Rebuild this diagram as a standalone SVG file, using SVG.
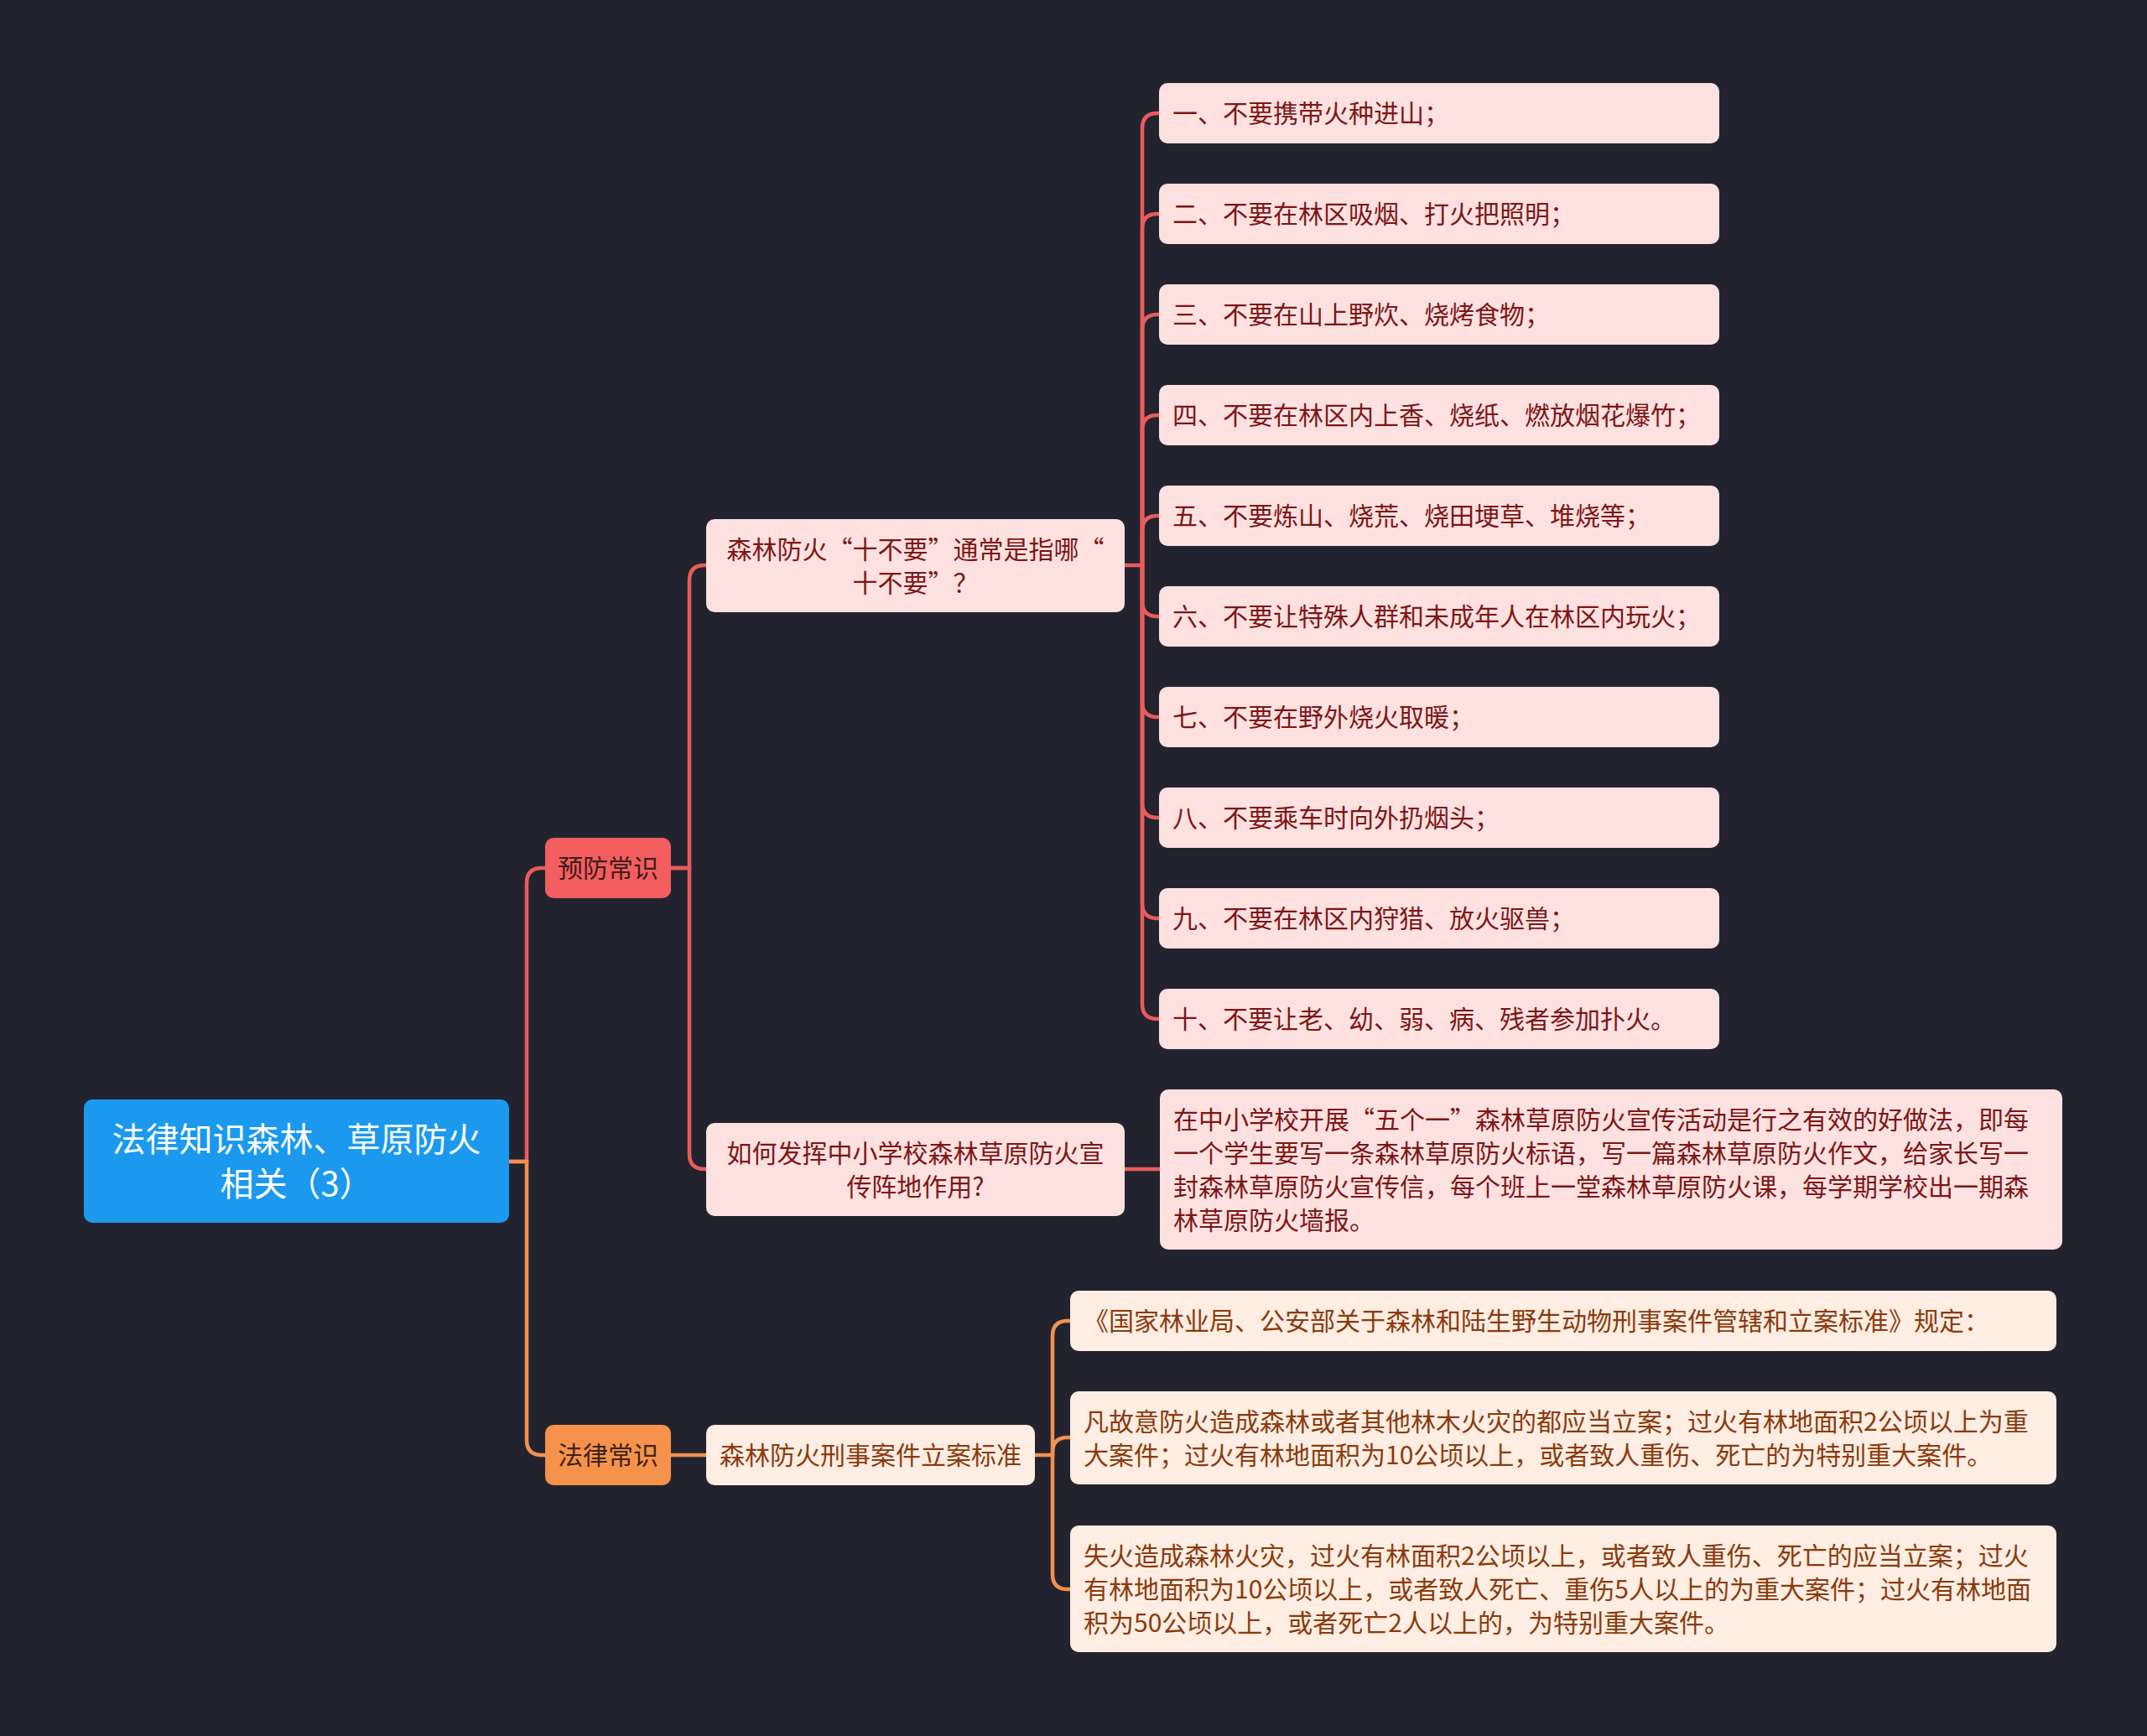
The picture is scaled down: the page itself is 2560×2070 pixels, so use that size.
<svg xmlns="http://www.w3.org/2000/svg" width="2560" height="2070" viewBox="0 0 2560 2070">
<defs>
<style>
text{font-family:"Noto Sans CJK SC","Noto Sans",sans-serif;dominant-baseline:central}
.t30{font-size:30px}
.red{fill:#7e1515}
.brn{fill:#8a3a0c}
.pk{fill:#fde1e1}
.pc{fill:#fdede2}
.lr{fill:none;stroke:#e95c5c;stroke-width:4.5;stroke-linecap:round}
.lo{fill:none;stroke:#f2914f;stroke-width:4.5;stroke-linecap:round}
</style>
</defs>
<rect width="2560" height="2070" fill="#22232f"/>
<g id="connectors">
<path class="lr" d="M607,1385 H628 V1053 Q628,1035 646,1035 H650"/>
<path class="lo" d="M607,1385 H628 V1717 Q628,1735 646,1735 H650"/>
<path class="lr" d="M800,1035 H822 V692 Q822,674 840,674 H842"/>
<path class="lr" d="M800,1035 H822 V1376 Q822,1394 840,1394 H842"/>
<path class="lr" d="M1341,674 H1362 V153 Q1362,135 1380,135 H1382"/>
<path class="lr" d="M1362,674 V273 Q1362,255 1380,255 H1382"/>
<path class="lr" d="M1362,674 V393 Q1362,375 1380,375 H1382"/>
<path class="lr" d="M1362,674 V513 Q1362,495 1380,495 H1382"/>
<path class="lr" d="M1362,674 V633 Q1362,615 1380,615 H1382"/>
<path class="lr" d="M1362,674 V717 Q1362,735 1380,735 H1382"/>
<path class="lr" d="M1362,674 V837 Q1362,855 1380,855 H1382"/>
<path class="lr" d="M1362,674 V957 Q1362,975 1380,975 H1382"/>
<path class="lr" d="M1362,674 V1077 Q1362,1095 1380,1095 H1382"/>
<path class="lr" d="M1362,674 V1197 Q1362,1215 1380,1215 H1382"/>
<path class="lr" d="M1341,1394 H1383"/>
<path class="lo" d="M800,1735 H842"/>
<path class="lo" d="M1234,1735 H1255 V1593 Q1255,1575 1273,1575 H1276"/>
<path class="lo" d="M1255,1735 V1732 Q1255,1714 1273,1714 H1276"/>
<path class="lo" d="M1255,1735 V1877 Q1255,1895 1273,1895 H1276"/>
</g>
<g id="root">
<rect x="100" y="1311" width="507" height="147" rx="10" fill="#1b99ef"/>
<text x="353.5" y="1356" font-size="40" fill="#ffffff" text-anchor="middle">法律知识森林、草原防火</text>
<text x="353.5" y="1409" font-size="40" fill="#ffffff" text-anchor="middle">相关（3）</text>
</g>
<g id="n-yufang">
<rect x="650" y="999" width="150" height="72" rx="10" fill="#f45e5e"/>
<text class="t30" x="725" y="1033" fill="#3a1c1c" text-anchor="middle">预防常识</text>
</g>
<g id="n-falv">
<rect x="650" y="1699" width="150" height="72" rx="10" fill="#f7924c"/>
<text class="t30" x="725" y="1733" fill="#3b2315" text-anchor="middle">法律常识</text>
</g>
<g id="n-shibuyao">
<rect class="pk" x="842" y="619" width="499" height="111" rx="10"/>
<text class="t30 red" x="1091.5" y="652.5" text-anchor="middle">森林防火“十不要”通常是指哪“</text>
<text class="t30 red" x="1091.5" y="692.5" text-anchor="middle">十不要”？</text>
</g>
<g id="n-ruhe">
<rect class="pk" x="842" y="1339" width="499" height="111" rx="10"/>
<text class="t30 red" x="1091.5" y="1372.5" text-anchor="middle">如何发挥中小学校森林草原防火宣</text>
<text class="t30 red" x="1091.5" y="1412.5" text-anchor="middle">传阵地作用?</text>
</g>
<g id="item1"><rect class="pk" x="1382" y="99" width="668" height="72" rx="10"/><text class="t30 red" x="1398" y="133">一、不要携带火种进山；</text></g>
<g id="item2"><rect class="pk" x="1382" y="219" width="668" height="72" rx="10"/><text class="t30 red" x="1398" y="253">二、不要在林区吸烟、打火把照明；</text></g>
<g id="item3"><rect class="pk" x="1382" y="339" width="668" height="72" rx="10"/><text class="t30 red" x="1398" y="373">三、不要在山上野炊、烧烤食物；</text></g>
<g id="item4"><rect class="pk" x="1382" y="459" width="668" height="72" rx="10"/><text class="t30 red" x="1398" y="493">四、不要在林区内上香、烧纸、燃放烟花爆竹；</text></g>
<g id="item5"><rect class="pk" x="1382" y="579" width="668" height="72" rx="10"/><text class="t30 red" x="1398" y="613">五、不要炼山、烧荒、烧田埂草、堆烧等；</text></g>
<g id="item6"><rect class="pk" x="1382" y="699" width="668" height="72" rx="10"/><text class="t30 red" x="1398" y="733">六、不要让特殊人群和未成年人在林区内玩火；</text></g>
<g id="item7"><rect class="pk" x="1382" y="819" width="668" height="72" rx="10"/><text class="t30 red" x="1398" y="853">七、不要在野外烧火取暖；</text></g>
<g id="item8"><rect class="pk" x="1382" y="939" width="668" height="72" rx="10"/><text class="t30 red" x="1398" y="973">八、不要乘车时向外扔烟头；</text></g>
<g id="item9"><rect class="pk" x="1382" y="1059" width="668" height="72" rx="10"/><text class="t30 red" x="1398" y="1093">九、不要在林区内狩猎、放火驱兽；</text></g>
<g id="item10"><rect class="pk" x="1382" y="1179" width="668" height="72" rx="10"/><text class="t30 red" x="1398" y="1213">十、不要让老、幼、弱、病、残者参加扑火。</text></g>
<g id="n-answer">
<rect class="pk" x="1383" y="1299" width="1076" height="191" rx="10"/>
<text class="t30 red" x="1399" y="1332.5">在中小学校开展“五个一”森林草原防火宣传活动是行之有效的好做法，即每</text>
<text class="t30 red" x="1399" y="1372.5">一个学生要写一条森林草原防火标语，写一篇森林草原防火作文，给家长写一</text>
<text class="t30 red" x="1399" y="1412.5">封森林草原防火宣传信，每个班上一堂森林草原防火课，每学期学校出一期森</text>
<text class="t30 red" x="1399" y="1452.5">林草原防火墙报。</text>
</g>
<g id="n-biaozhun">
<rect class="pc" x="842" y="1699" width="392" height="72" rx="10"/>
<text class="t30 brn" x="1038" y="1733" text-anchor="middle">森林防火刑事案件立案标准</text>
</g>
<g id="n-guiding">
<rect class="pc" x="1276" y="1539" width="1176" height="72" rx="10"/>
<text class="t30 brn" x="1292" y="1573">《国家林业局、公安部关于森林和陆生野生动物刑事案件管辖和立案标准》规定：</text>
</g>
<g id="n-guyi">
<rect class="pc" x="1276" y="1659" width="1176" height="111" rx="10"/>
<text class="t30 brn" x="1292" y="1692.5">凡故意防火造成森林或者其他林木火灾的都应当立案；过火有林地面积2公顷以上为重</text>
<text class="t30 brn" x="1292" y="1732.5">大案件；过火有林地面积为10公顷以上，或者致人重伤、死亡的为特别重大案件。</text>
</g>
<g id="n-shihuo">
<rect class="pc" x="1276" y="1819" width="1176" height="151" rx="10"/>
<text class="t30 brn" x="1292" y="1852.5">失火造成森林火灾，过火有林面积2公顷以上，或者致人重伤、死亡的应当立案；过火</text>
<text class="t30 brn" x="1292" y="1892.5">有林地面积为10公顷以上，或者致人死亡、重伤5人以上的为重大案件；过火有林地面</text>
<text class="t30 brn" x="1292" y="1932.5">积为50公顷以上，或者死亡2人以上的，为特别重大案件。</text>
</g>
</svg>
